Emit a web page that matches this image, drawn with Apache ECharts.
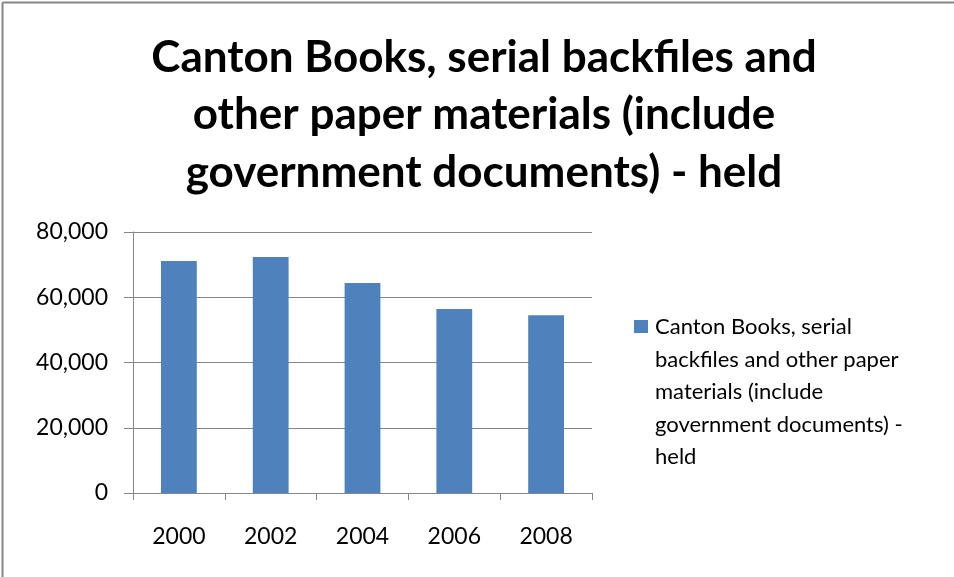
<!DOCTYPE html>
<html>
<head>
<meta charset="utf-8">
<script src="https://cdn.jsdelivr.net/npm/echarts@6/dist/echarts.min.js"></script>
<style>html,body{margin:0;padding:0;background:#fff}#c{width:954px;height:577px}</style>
</head>
<body>
<div id="c"></div>
<script>
const titleText = 'Canton Books, serial backfiles and\nother paper materials (include\ngovernment documents) - held';
const seriesName = 'Canton Books, serial backfiles and other paper materials (include government documents) - held';
const legendLabel = 'Canton Books, serial\nbackfiles and other paper\nmaterials (include\ngovernment documents) -\nheld';
const years = ['2000', '2002', '2004', '2006', '2008'];
const held = [71100, 72300, 64400, 56400, 54500];
const yTicks = [0, 20000, 40000, 60000, 80000];

const FONT = 'Lato';
const LH = 32.5;
const BAR = '#4F81BD';
const chart = echarts.init(document.getElementById('c'));
chart.setOption({
  animation: false,
  backgroundColor: '#fff',
  title: {
    text: titleText,
    left: 484,
    textAlign: 'center',
    top: 29,
    padding: 0,
    textStyle: { fontFamily: FONT, fontWeight: 'bold', fontSize: 44, lineHeight: 57.5, color: '#000' }
  },
  legend: {
    data: [seriesName],
    left: 636,
    top: 311,
    padding: 0,
    orient: 'vertical',
    icon: 'rect',
    itemWidth: 14,
    itemHeight: 14,
    itemStyle: { opacity: 0 },
    selectedMode: false,
    formatter: () => legendLabel,
    textStyle: { fontFamily: FONT, fontSize: 22, lineHeight: LH, color: '#000' }
  },
  grid: { left: 133, right: 362, top: 232, bottom: 84, containLabel: false },
  xAxis: {
    type: 'category',
    data: years,
    boundaryGap: true,
    axisLine: { lineStyle: { color: '#868686', width: 1 } },
    axisTick: { show: true, length: 7, alignWithLabel: false, lineStyle: { color: '#868686' } },
    axisLabel: { margin: 32, fontFamily: FONT, fontSize: 23, color: '#000' },
    splitLine: { show: false }
  },
  yAxis: {
    type: 'value',
    min: yTicks[0],
    max: yTicks[yTicks.length - 1],
    interval: yTicks[1] - yTicks[0],
    axisLine: { show: true, lineStyle: { color: '#868686', width: 1 } },
    axisTick: { show: true, length: 9, lineStyle: { color: '#868686' } },
    axisLabel: { margin: 25, fontFamily: FONT, fontSize: 23, color: '#000',
      formatter: v => v.toLocaleString('en-US') },
    splitLine: { show: true, lineStyle: { color: '#868686', width: 1 } }
  },
  series: [{
    name: seriesName,
    type: 'bar',
    data: held,
    barWidth: '39%',
    itemStyle: { color: BAR }
  }],
  graphic: [
    { type: 'rect', shape: { x: 634, y: 320, width: 14, height: 13 }, style: { fill: BAR } },
    { type: 'line', shape: { x1: 2.5, y1: 2.5, x2: 954, y2: 2.5 }, style: { stroke: '#868686', lineWidth: 2 } },
    { type: 'line', shape: { x1: 2.5, y1: 2.5, x2: 2.5, y2: 577 }, style: { stroke: '#868686', lineWidth: 2 } }
  ]
});
</script>
</body>
</html>
